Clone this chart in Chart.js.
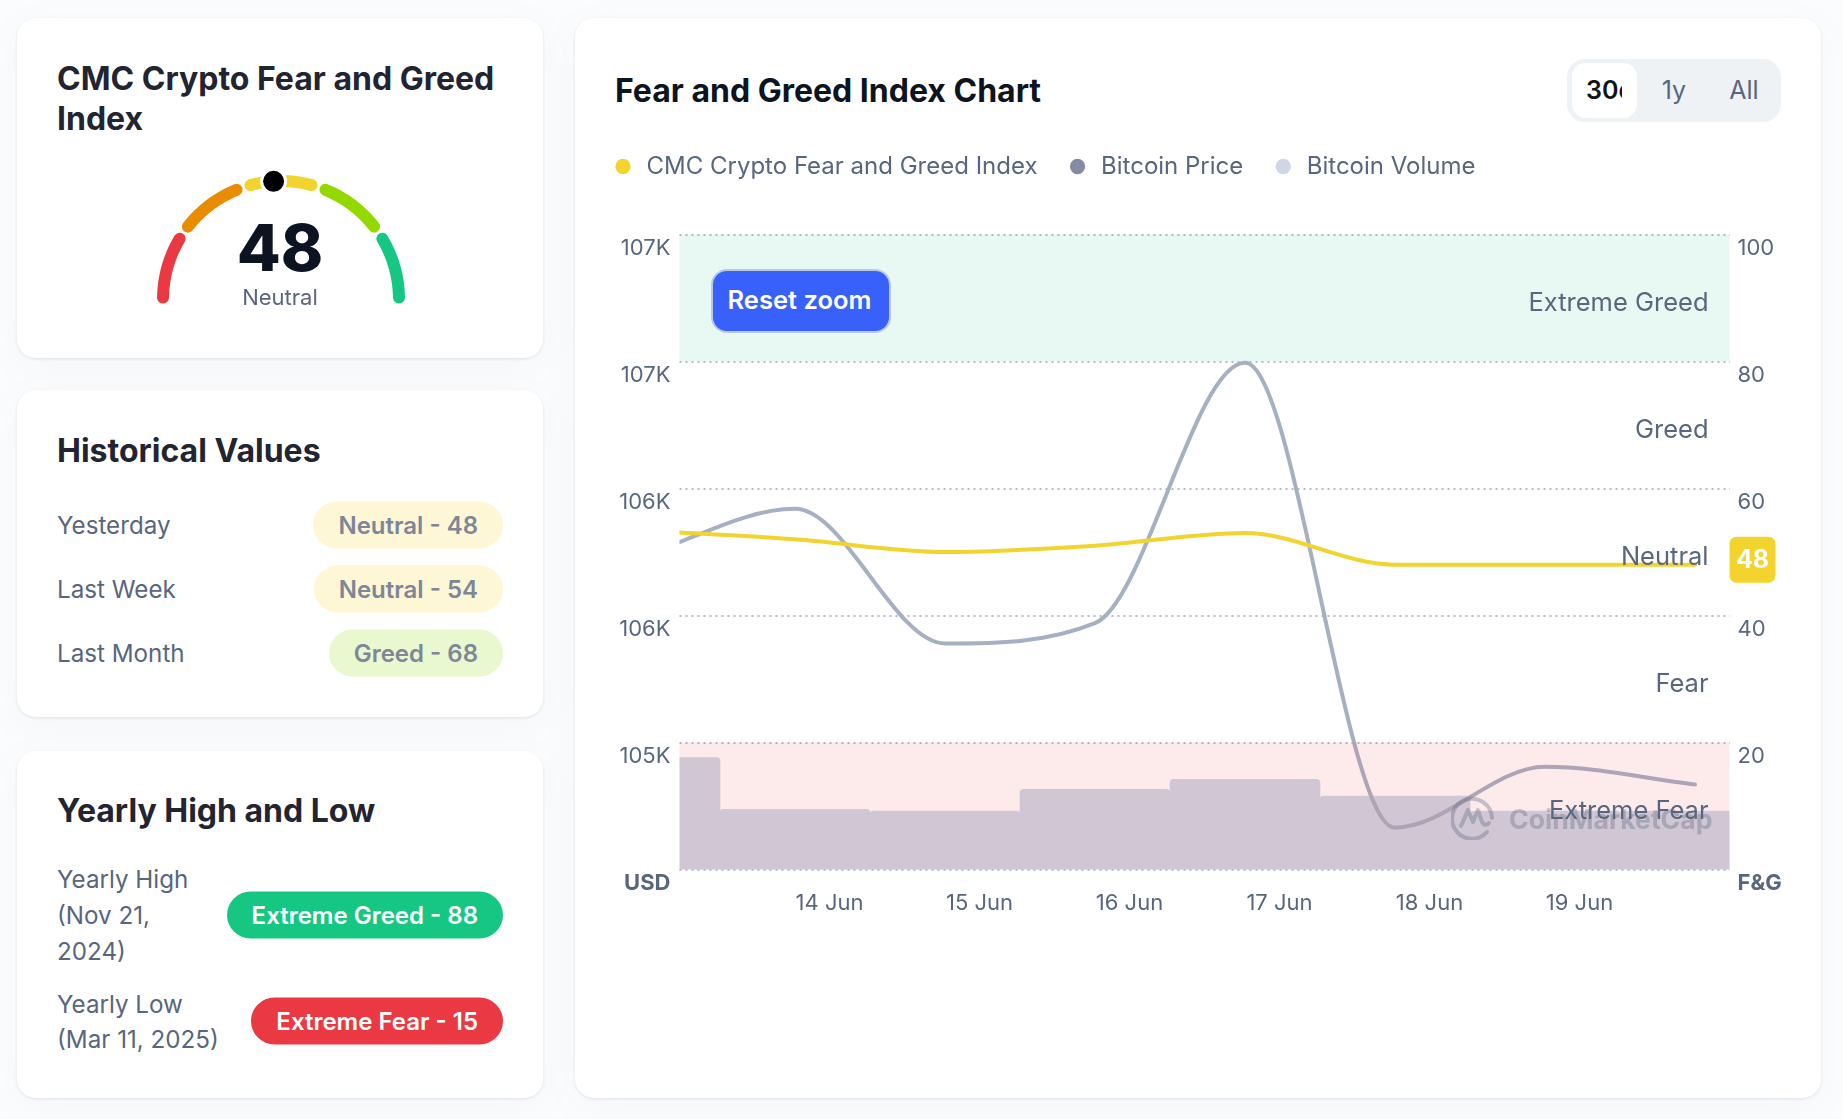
<!DOCTYPE html>
<html>
<head>
<meta charset="utf-8">
<title>Fear and Greed Index</title>
<script src="https://cdn.jsdelivr.net/npm/chart.js"></script>
<style>
  * { box-sizing: border-box; }
  html, body { margin: 0; width: 1843px; height: 1119px; overflow: hidden; background: #fbfcfd; font-family: Inter, sans-serif; }
  .card { position: absolute; background: #fff; border-radius: 19px; box-shadow: 0 1px 3px rgba(128,138,157,.2), 0 9px 38px rgba(128,138,157,.05); }
  .abs { position: absolute; white-space: nowrap; line-height: 1; }
  .title { font-size: 32px; font-weight: 700; color: #222531; }
  .label { font-size: 24.2px; color: #58667e; transform: translateY(-50%); margin-top: 1px; }
  .pill { position: absolute; right: 1340px; height: 47px; line-height: 47px; border-radius: 24px; padding: 0 25px; font-size: 24px; font-weight: 600; white-space: nowrap; transform: translateY(-50%); }
  .seg { position: absolute; left: 1567px; top: 59px; width: 214px; height: 63px; background: #eff2f5; border-radius: 18px; }
  .segOn { position: absolute; left: 5px; top: 4px; width: 65px; height: 55px; background: #fff; border-radius: 14px; font-size: 25px; font-weight: 600; color: #0d1421; line-height: 55px; padding-left: 14px; white-space: nowrap; }
  .segOn span { display: block; width: 36px; overflow: hidden; }
  .segOff { position: absolute; top: 0; line-height: 63px; font-size: 25px; color: #58667e; transform: translateX(-50%); }
  #reset { position: absolute; left: 711px; top: 269px; width: 180px; height: 64px; background: #3861fb; color: #fff; font: 600 25.5px Inter, sans-serif; border: 2px solid #bdc6e6; border-radius: 16px; z-index: 3; padding: 0 3px 3px 0; }
  #mainWrap { position: absolute; left: 582.5px; top: 126px; width: 1217.5px; height: 804px; }
  #gaugeWrap { position: absolute; left: 157px; top: 161px; width: 248px; height: 148px; }
  #mark { position: absolute; left: 1452px; top: 803px; color: rgba(88,102,126,.34); font-size: 26.6px; font-weight: 700; white-space: nowrap; z-index: 2; }
  #mark svg { position: absolute; left: -1px; top: -7px; }
</style>
</head>
<body>
<div class="card" style="left:17px;top:18px;width:526px;height:340px"></div>
<div class="card" style="left:17px;top:390px;width:526px;height:327px"></div>
<div class="card" style="left:17px;top:751px;width:526px;height:347px"></div>
<div class="card" style="left:575px;top:18px;width:1246px;height:1080px"></div>

<div class="abs title" style="left:57px;top:63px">CMC Crypto Fear and Greed</div>
<div class="abs title" style="left:57px;top:103px">Index</div>
<div id="gaugeWrap"><canvas id="gaugeChart"></canvas></div>
<div class="abs" style="left:280px;top:216px;transform:translateX(-50%);font-size:64px;font-weight:800;color:#0d1421">48</div>
<div class="abs" style="left:280px;top:286px;transform:translateX(-50%);font-size:22px;color:#58667e">Neutral</div>

<div class="abs title" style="left:57px;top:435px">Historical Values</div>
<div class="abs label" style="left:57px;top:525px">Yesterday</div>
<div class="abs label" style="left:57px;top:589px">Last Week</div>
<div class="abs label" style="left:57px;top:653px">Last Month</div>
<div class="pill" style="top:525px;background:#fdf7d6;color:#7d8799">Neutral - 48</div>
<div class="pill" style="top:589px;background:#fdf7d6;color:#7d8799">Neutral - 54</div>
<div class="pill" style="top:653px;background:#e9f8cf;color:#7d8799">Greed - 68</div>

<div class="abs title" style="left:57px;top:795px">Yearly High and Low</div>
<div class="abs label" style="left:57px;top:879px">Yearly High</div>
<div class="abs label" style="left:57px;top:915px">(Nov 21,</div>
<div class="abs label" style="left:57px;top:951px">2024)</div>
<div class="abs label" style="left:57px;top:1004px">Yearly Low</div>
<div class="abs label" style="left:57px;top:1039px">(Mar 11, 2025)</div>
<div class="pill" style="top:915px;background:#16c784;color:#fff">Extreme Greed - 88</div>
<div class="pill" style="top:1021px;background:#ea3943;color:#fff">Extreme Fear - 15</div>

<div class="abs title" style="left:615px;top:75px;color:#0d1421">Fear and Greed Index Chart</div>
<div class="seg">
  <div class="segOn"><span>30d</span></div>
  <div class="segOff" style="left:107px">1y</div>
  <div class="segOff" style="left:177px">All</div>
</div>
<button id="reset">Reset zoom</button>
<div id="mark"><svg width="44" height="44" viewBox="0 0 44 44" fill="none" stroke="rgba(88,102,126,.34)" stroke-width="4" stroke-linecap="round" stroke-linejoin="round"><path d="M36 36A20 20 0 1 1 41 22"/><path d="M10 30L17 14L22 26L27 14L31 26Q34 31 38 27"/></svg><span style="margin-left:57px">CoinMarketCap</span></div>
<div id="mainWrap"><canvas id="mainChart"></canvas></div>

<script>
  // points sit on these day positions (day of June, 12.77 is off the left edge)
  const pointDays = [12.77, 13.77, 14.77, 15.77, 16.77, 17.77, 18.77, 19.77];
  const fearGreed = [53.4, 52, 50, 51, 53, 48, 48, 48];
  const btcPrice = [105740, 105920, 105390, 105470, 106495, 104665, 104905, 104835];
  const btcVolume = [67, 36, 35, 48, 54, 44, 35, 35]; // billions
  const tickDays = [14, 15, 16, 17, 18, 19];
  const tickLabels = ['14 Jun', '15 Jun', '16 Jun', '17 Jun', '18 Jun', '19 Jun'];
  const priceTicks = ['USD', '105K', '106K', '106K', '107K', '107K'];
  const fgTicks = ['F&G', '20', '40', '60', '80', '100'];
  const legendColors = ['#f3d42f', '#858ca2', '#cfd6e4'];
  const zoneNames = ['Extreme Fear', 'Fear', 'Neutral', 'Greed', 'Extreme Greed'];
  const zoneFrom = [0, 20, 40, 60, 80];
  const zoneTo = [20, 40, 60, 80, 100];
  const zoneFill = ['rgba(234,57,67,.1)', null, null, null, 'rgba(22,199,132,.1)'];
  const currentValue = 48;
  const gaugeSegments = [20, 20, 20, 20, 20];
  const gaugeColors = ['#ea3943', '#ea8c00', '#f3d42f', '#93d900', '#16c784'];

  Chart.defaults.font.family = 'Inter';
  Chart.defaults.color = '#58667e';
  Chart.defaults.animation = false;

  const toPoints = vals => vals.map((v, i) => ({ x: pointDays[i], y: v }));

  // bands go over the lines and bars, like in the original
  const zones = {
    id: 'zones',
    afterDatasetsDraw(chart) {
      const { ctx, chartArea: a, scales } = chart;
      const y = scales.yFg;
      ctx.save();
      zoneNames.forEach((name, i) => {
        const top = y.getPixelForValue(zoneTo[i]);
        const bottom = y.getPixelForValue(zoneFrom[i]);
        if (zoneFill[i]) {
          ctx.fillStyle = zoneFill[i];
          ctx.fillRect(a.left, top, a.right - a.left, bottom - top);
        }
        ctx.fillStyle = '#58667e';
        ctx.font = '25.5px Inter';
        ctx.textAlign = 'right';
        ctx.textBaseline = 'middle';
        ctx.fillText(name, a.right - 21, (top + bottom) / 2 + 5);
      });
      // current value badge
      const by = y.getPixelForValue(currentValue) - 5;
      ctx.fillStyle = '#f3d42f';
      ctx.beginPath();
      ctx.roundRect(a.right, by - 23, 46, 46, 7);
      ctx.fill();
      ctx.fillStyle = '#fff';
      ctx.font = '700 25px Inter';
      ctx.textAlign = 'center';
      ctx.fillText(String(currentValue), a.right + 23, by + 1);
      ctx.restore();
    }
  };

  // more room under the legend
  const legendGap = {
    id: 'legendGap',
    beforeInit(chart) {
      const fit = chart.legend.fit;
      chart.legend.fit = function () {
        fit.call(this);
        this.height += 46;
      };
    }
  };

  new Chart(document.getElementById('mainChart'), {
    data: {
      datasets: [
        { type: 'line', label: 'CMC Crypto Fear and Greed Index', data: toPoints(fearGreed), yAxisID: 'yFg', borderColor: '#f3d42f', borderWidth: 4, borderCapStyle: 'round', pointRadius: 0, cubicInterpolationMode: 'monotone', order: 1 },
        { type: 'line', label: 'Bitcoin Price', data: toPoints(btcPrice), yAxisID: 'yPrice', borderColor: '#a6b0c3', borderWidth: 4, borderCapStyle: 'round', pointRadius: 0, cubicInterpolationMode: 'monotone', order: 2 },
        { type: 'bar', label: 'Bitcoin Volume', data: toPoints(btcVolume), yAxisID: 'yVol', backgroundColor: '#cfd6e4', barPercentage: 1, categoryPercentage: 1, borderRadius: { topLeft: 4, topRight: 4 }, order: 3 }
      ]
    },
    options: {
      responsive: true,
      maintainAspectRatio: false,
      plugins: {
        tooltip: { enabled: false },
        legend: {
          position: 'top',
          align: 'start',
          labels: {
            usePointStyle: true,
            pointStyle: 'circle',
            boxWidth: 23,
            boxHeight: 10.8,
            padding: 28.5,
            font: { size: 24 },
            color: '#58667e',
            generateLabels(chart) {
              return Chart.defaults.plugins.legend.labels.generateLabels(chart).map((l, i) => ({
                ...l, fillStyle: legendColors[i], strokeStyle: legendColors[i], lineWidth: 0
              }));
            }
          }
        }
      },
      scales: {
        x: {
          type: 'linear',
          offset: false,
          min: 13,
          max: 20,
          grid: { display: false },
          border: { display: false },
          ticks: {
            stepSize: 1,
            maxRotation: 0,
            autoSkip: false,
            padding: 13,
            font: { size: 22 },
            callback: v => { const i = tickDays.indexOf(v); return i < 0 ? null : tickLabels[i]; }
          }
        },
        yPrice: {
          position: 'left',
          min: 104500,
          max: 107000,
          afterFit: s => { s.width = 96.5; },
          grid: { display: false, drawTicks: false },
          border: { display: false },
          ticks: {
            stepSize: 500,
            padding: 9,
            labelOffset: 14,
            font: c => ({ size: 22, weight: c.index === 0 ? '700' : '400' }),
            callback: (v, i) => priceTicks[i]
          }
        },
        yFg: {
          position: 'right',
          min: 0,
          max: 100,
          afterFit: s => { s.width = 71; },
          grid: { color: '#b4bcca', lineWidth: 2, tickLength: 0, drawTicks: false },
          border: { display: false, dash: [2, 4] },
          ticks: {
            stepSize: 20,
            padding: 8,
            labelOffset: 14,
            font: c => ({ size: 22, weight: c.index === 0 ? '700' : '400' }),
            callback: (v, i) => fgTicks[i]
          }
        },
        yVol: { display: false, min: 0, max: 380 }
      }
    },
    plugins: [zones, legendGap]
  });

  // gauge dot
  const gaugeDot = {
    id: 'gaugeDot',
    afterDatasetsDraw(chart) {
      const arc = chart.getDatasetMeta(0).data[0];
      const r = (arc.innerRadius + arc.outerRadius) / 2 + arc.options.spacing / 2;
      const a = Math.PI + Math.PI * currentValue / 100;
      const { ctx } = chart;
      ctx.save();
      ctx.beginPath();
      ctx.arc(arc.x + r * Math.cos(a), arc.y + r * Math.sin(a), 10.5, 0, Math.PI * 2);
      ctx.fillStyle = '#000';
      ctx.strokeStyle = '#fff';
      ctx.lineWidth = 6;
      ctx.stroke();
      ctx.fill();
      ctx.restore();
    }
  };

  new Chart(document.getElementById('gaugeChart'), {
    type: 'doughnut',
    data: {
      datasets: [{ data: gaugeSegments, backgroundColor: gaugeColors, borderWidth: 0, borderRadius: 6, spacing: 8 }]
    },
    options: {
      responsive: true,
      maintainAspectRatio: false,
      rotation: -92.8,
      circumference: 185.6,
      cutout: '90%',
      clip: false,
      layout: { padding: { top: 14 } },
      plugins: { legend: { display: false }, tooltip: { enabled: false } }
    },
    plugins: [gaugeDot]
  });
</script>
</body>
</html>
